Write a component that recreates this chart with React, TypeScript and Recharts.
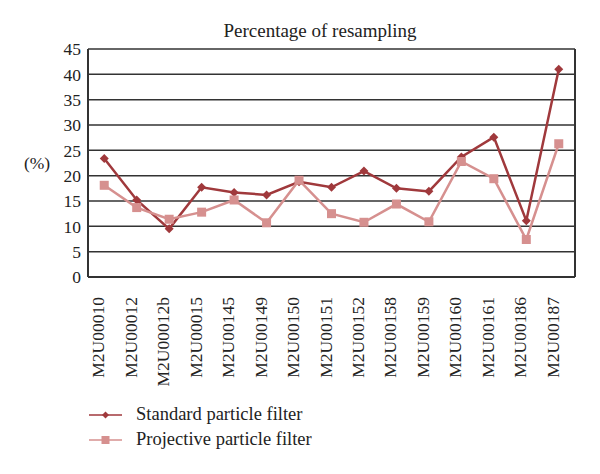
import React from 'react';
import { LineChart, Line, XAxis, YAxis, CartesianGrid, Legend } from 'recharts';

const categories = ['M2U00010','M2U00012','M2U00012b','M2U00015','M2U00145','M2U00149','M2U00150','M2U00151','M2U00152','M2U00158','M2U00159','M2U00160','M2U00161','M2U00186','M2U00187'];
const standardValues = [23.4, 15.2, 9.5, 17.7, 16.7, 16.2, 18.8, 17.7, 20.9, 17.5, 16.9, 23.7, 27.6, 11.1, 41.0];
const projectiveValues = [18.1, 13.7, 11.4, 12.8, 15.2, 10.7, 19.1, 12.5, 10.8, 14.4, 10.9, 22.8, 19.4, 7.4, 26.3];
const yTicks = [0, 5, 10, 15, 20, 25, 30, 35, 40, 45];
const seriesNames = ['Standard particle filter', 'Projective particle filter'];

const data = categories.map((c, i) => ({ name: c, standard: standardValues[i], projective: projectiveValues[i] }));

const STD = '#a0393c';
const PROJ = '#d6908f';
const FONT = "'Liberation Serif', serif";

const Diamond = (props: any) => {
  const { cx, cy } = props;
  if (cx == null || cy == null) return null;
  const r = 4.5;
  return <path d={`M${cx},${cy - r}L${cx + r},${cy}L${cx},${cy + r}L${cx - r},${cy}Z`} fill={STD} />;
};

const Square = (props: any) => {
  const { cx, cy } = props;
  if (cx == null || cy == null) return null;
  const s = 9;
  return <rect x={cx - s / 2} y={cy - s / 2} width={s} height={s} fill={PROJ} />;
};

const XTick = (props: any) => {
  const { x, y, payload } = props;
  return (
    <text x={x} y={y + 12} transform={`rotate(-90, ${x}, ${y + 12})`} textAnchor="end" fontSize={17.5} style={{ fontFamily: FONT }} fill="#222">
      {payload.value}
    </text>
  );
};

const YTick = (props: any) => {
  const { y, payload } = props;
  return (
    <text x={81} y={y} dy="0.36em" textAnchor="end" fontSize={17.5} style={{ fontFamily: FONT }} fill="#222">
      {payload.value}
    </text>
  );
};

const LegendContent = () => (
  <div style={{ fontFamily: FONT, fontSize: 18.5, color: '#222' }}>
    {seriesNames.map((n, i) => (
      <div key={n} style={{ display: 'flex', alignItems: 'center', height: 25 }}>
        <svg width={48} height={14} style={{ display: 'block' }}>
          <line x1={1} y1={7} x2={34} y2={7} stroke={i === 0 ? STD : PROJ} strokeWidth={1.6} />
          {i === 0 ? (
            <path d="M17.5,3.5L21,7L17.5,10.5L14,7Z" fill={STD} />
          ) : (
            <rect x={13.5} y={3} width={8} height={8} fill={PROJ} />
          )}
        </svg>
        <span>{n}</span>
      </div>
    ))}
  </div>
);

export default function App() {
  return (
    <div style={{ position: 'absolute', left: 0, top: 0, width: 600, height: 474, background: '#fff', fontFamily: FONT }}>
      <svg width={600} height={474} style={{ position: 'absolute', left: 0, top: 0, pointerEvents: 'none' }}>
        <text x={320} y={37} textAnchor="middle" fontSize={19} style={{ fontFamily: FONT }} fill="#222">Percentage of resampling</text>
        <text x={37} y={163} dy="0.36em" textAnchor="middle" fontSize={17.5} style={{ fontFamily: FONT }} fill="#222">(%)</text>
      </svg>
      <LineChart width={600} height={474} data={data} margin={{ top: 49, right: 20, bottom: 0, left: 0 }}>
        <CartesianGrid yAxisId="left" horizontal vertical={false} stroke="#333" strokeWidth={1.5} />
        <XAxis dataKey="name" scale="band" interval={0} tick={<XTick />} tickLine={false} axisLine={{ stroke: '#333', strokeWidth: 2 }} height={137} />
        <YAxis yAxisId="left" domain={[0, 45]} ticks={yTicks} width={88} tick={<YTick />} tickLine={false} axisLine={{ stroke: '#333', strokeWidth: 2 }} />
        <YAxis yAxisId="right" orientation="right" domain={[0, 45]} ticks={yTicks} width={5} tick={false} tickLine={false} axisLine={{ stroke: '#333', strokeWidth: 2 }} />
        <Legend content={<LegendContent />} wrapperStyle={{ left: 88, top: 402, height: 60, width: 400 }} verticalAlign="bottom" />
        <Line yAxisId="left" dataKey="standard" name={seriesNames[0]} stroke={STD} strokeWidth={2.5} dot={<Diamond />} activeDot={false} isAnimationActive={false} />
        <Line yAxisId="left" dataKey="projective" name={seriesNames[1]} stroke={PROJ} strokeWidth={2.5} dot={<Square />} activeDot={false} isAnimationActive={false} />
      </LineChart>
    </div>
  );
}
